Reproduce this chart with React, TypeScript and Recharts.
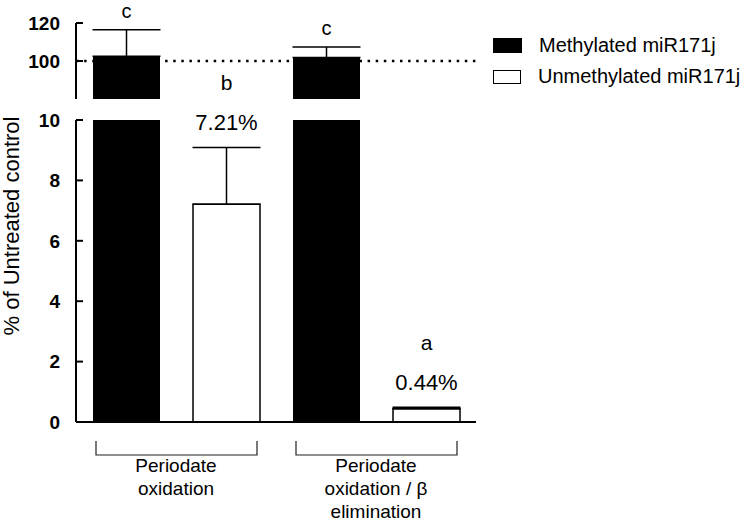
import React from 'react';
import { BarChart, Bar, XAxis, YAxis, ErrorBar, ReferenceLine, LabelList } from 'recharts';

const categories: string[][] = [
  ['Periodate', 'oxidation'],
  ['Periodate', 'oxidation / β', 'elimination'],
];
const methylated = [102.5, 101.8];
const methylatedErr = [14, 5.6];
const unmethylated = [7.21, 0.44];
const unmethylatedErr = [1.88, 0.05];
const methylatedLetters = ['c', 'c'];
const unmethylatedLetters = ['b', 'a'];
const unmethylatedPct = ['7.21%', '0.44%'];
const seriesNames = ['Methylated miR171j', 'Unmethylated miR171j'];
const topTicks = [80, 100, 120];
const bottomTicks = [0, 2, 4, 6, 8, 10];
const referenceValue = 100;
const yLabel = '% of Untreated control';

const FONT = '"Liberation Sans", Arial, Helvetica, sans-serif';

const data = categories.map((c, i) => ({
  name: c.join('\n'),
  m: methylated[i],
  mErr: [0, methylatedErr[i]],
  u: unmethylated[i],
  uErr: [0, unmethylatedErr[i]],
}));

const getBox = (p: any) => {
  const vb = p.viewBox && typeof p.viewBox.x === 'number' ? p.viewBox : p;
  return { x: vb.x as number, y: vb.y as number, width: vb.width as number, height: vb.height as number };
};

const TopLabel = (p: any) => {
  const { x, y, width, height } = getBox(p);
  const index: number = p.index ?? 0;
  const v = methylated[index];
  const perUnit = height / (v - topTicks[0]);
  const errTop = y - methylatedErr[index] * perUnit;
  return (
    <text x={x + width / 2} y={errTop - 18.5} textAnchor="middle" dominantBaseline="central"
      fontFamily={FONT} fontSize={20} fill="#000">
      {methylatedLetters[index]}
    </text>
  );
};

const BottomLabel = (p: any) => {
  const { x, y, width, height } = getBox(p);
  const index: number = p.index ?? 0;
  const v = unmethylated[index];
  const perUnit = height / v;
  const errTop = y - unmethylatedErr[index] * perUnit;
  const cx = x + width / 2;
  return (
    <g>
      <text x={cx} y={errTop - 65} textAnchor="middle" dominantBaseline="central"
        fontFamily={FONT} fontSize={21} fill="#000">
        {unmethylatedLetters[index]}
      </text>
      <text x={cx} y={errTop - 25} textAnchor="middle" dominantBaseline="central"
        fontFamily={FONT} fontSize={22} fill="#000">
        {unmethylatedPct[index]}
      </text>
    </g>
  );
};

const CategoryTick = (props: any) => {
  const { x, y, payload } = props;
  const lines = String(payload.value).split('\n');
  const left = x - 80;
  const right = x + 81;
  return (
    <g>
      <path d={`M${left},${y + 19} V${y + 33} H${right} V${y + 19}`} fill="none" stroke="#222" strokeWidth={1.2} />
      {lines.map((l, i) => (
        <text key={i} x={x} y={y + 43 + i * 23} textAnchor="middle" dominantBaseline="central"
          fontFamily={FONT} fontSize={19} fill="#000">
          {l}
        </text>
      ))}
    </g>
  );
};

const tickStyle = { fontFamily: FONT, fontSize: 19, fontWeight: 'bold' as const, fill: '#000' };

export default function App() {
  return (
    <div style={{ position: 'absolute', left: 0, top: 0, width: 751, height: 524, background: '#fff', fontFamily: FONT }}>
      {/* Lower segment (0-10) */}
      <div style={{ position: 'absolute', left: 0, top: 0 }}>
        <BarChart width={751} height={524} data={data}
          margin={{ top: 120, right: 275, bottom: 0, left: 0 }}
          barSize={67} barGap={33}>
          <XAxis dataKey="name" height={102} tickSize={0} tickMargin={0} tickLine={false}
            axisLine={{ stroke: '#000', strokeWidth: 2 }} tick={<CategoryTick />} interval={0} />
          <YAxis width={76} domain={[bottomTicks[0], bottomTicks[bottomTicks.length - 1]]} ticks={bottomTicks}
            allowDataOverflow type="number" tickSize={-7} tickMargin={23}
            axisLine={{ stroke: '#000', strokeWidth: 2 }} tickLine={{ stroke: '#000', strokeWidth: 2 }}
            tick={tickStyle}
            label={() => (
              <text x={11} y={226} transform="rotate(-90, 11, 226)" textAnchor="middle" dominantBaseline="central"
                fontFamily={FONT} fontSize={22} fill="#000">{yLabel}</text>
            )} />
          <Bar dataKey="m" name={seriesNames[0]} fill="#000" isAnimationActive={false} />
          <Bar dataKey="u" name={seriesNames[1]} fill="#fff" stroke="#000" strokeWidth={1.5} isAnimationActive={false}>
            <ErrorBar dataKey="uErr" width={34} stroke="#000" strokeWidth={1.5} direction="y" />
            <LabelList dataKey="u" content={BottomLabel} />
          </Bar>
        </BarChart>
      </div>
      {/* Upper segment (80-120) */}
      <div style={{ position: 'absolute', left: 0, top: 0 }}>
        <BarChart width={480} height={99} data={data}
          margin={{ top: 23, right: 4, bottom: 0, left: 0 }}
          barSize={67} barGap={33}>
          <XAxis dataKey="name" hide />
          <YAxis width={76} domain={[topTicks[0], topTicks[topTicks.length - 1]]} ticks={topTicks}
            allowDataOverflow type="number" tickSize={-7} tickMargin={23}
            axisLine={{ stroke: '#000', strokeWidth: 2 }} tickLine={{ stroke: '#000', strokeWidth: 2 }}
            tick={tickStyle} />
          <ReferenceLine y={referenceValue} stroke="#000" strokeWidth={2.5} strokeDasharray="2.5 5.6" />
          <Bar dataKey="m" name={seriesNames[0]} fill="#000" isAnimationActive={false}>
            <ErrorBar dataKey="mErr" width={34} stroke="#000" strokeWidth={1.5} direction="y" />
            <LabelList dataKey="m" content={TopLabel} />
          </Bar>
          <Bar dataKey="u" name={seriesNames[1]} fill="none" stroke="none" isAnimationActive={false} />
        </BarChart>
      </div>
      {/* Legend */}
      <div style={{ position: 'absolute', left: 493, top: 30 }}>
        {seriesNames.map((n, i) => (
          <div key={n} style={{ display: 'flex', alignItems: 'center', height: 31, whiteSpace: 'nowrap' }}>
            <span style={{
              display: 'inline-block', width: i === 0 ? 29 : 26, height: i === 0 ? 15 : 12,
              background: i === 0 ? '#000' : '#fff', border: i === 0 ? 'none' : '1.5px solid #000',
              marginRight: 17,
            }} />
            <span style={{ fontSize: 20, color: '#000', lineHeight: '31px' }}>{n}</span>
          </div>
        ))}
      </div>
    </div>
  );
}
